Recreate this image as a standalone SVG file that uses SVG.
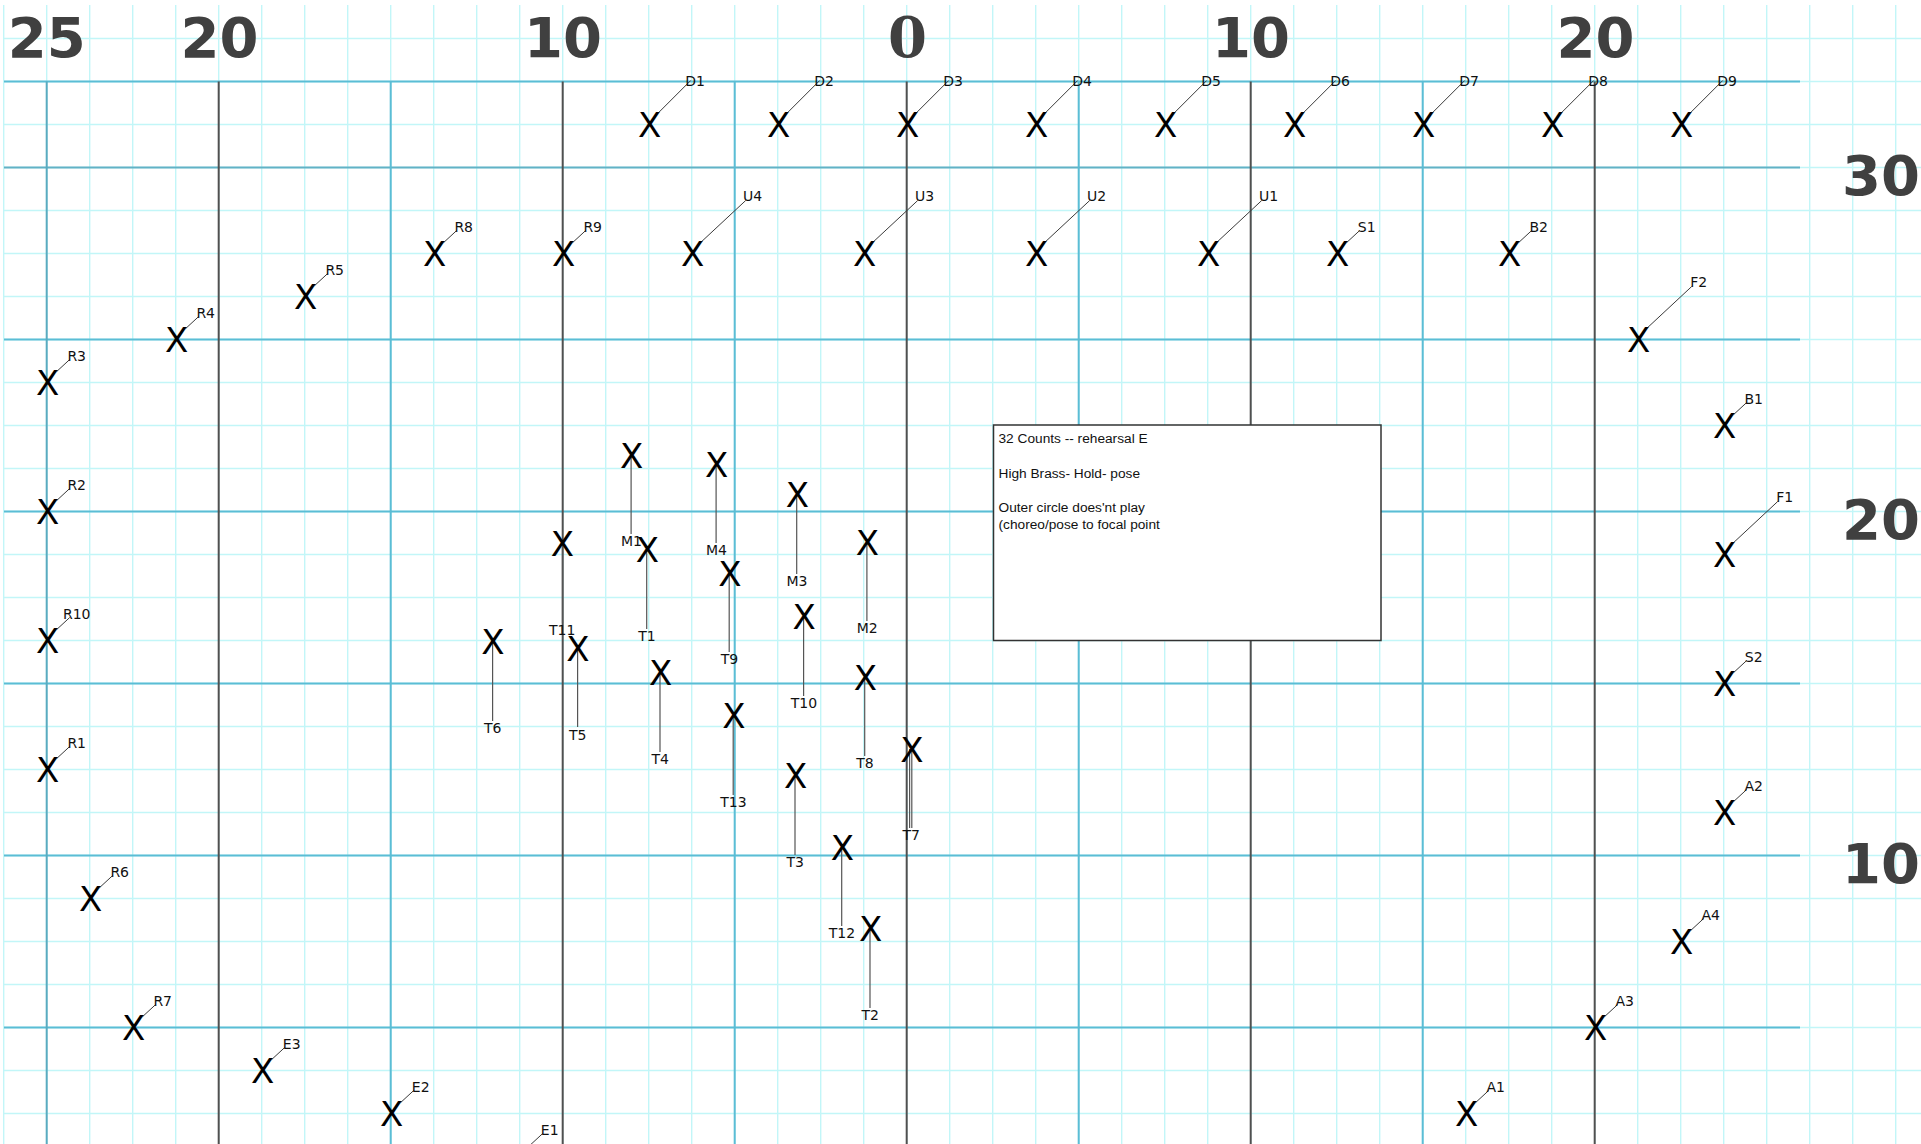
<svg xmlns="http://www.w3.org/2000/svg" width="1921" height="1144" viewBox="0 0 1921 1144">
<style>
.minor{fill:none;stroke:#c2f6f8;stroke-width:1.4}
.hmaj{fill:none;stroke:#5bbdd5;stroke-width:2}
.yb{fill:none;stroke:#5aabc0;stroke-width:2}
.yd{fill:none;stroke:#505050;stroke-width:2}
.num{font-family:"DejaVu Sans",sans-serif;font-weight:bold;font-size:56px;fill:#404040;text-anchor:middle}
.numr{font-family:"DejaVu Sans",sans-serif;font-weight:bold;font-size:56px;fill:#404040;text-anchor:end}
.nums{font-family:"DejaVu Serif",serif;font-weight:bold;font-size:56px;fill:#404040;text-anchor:middle}
.x{font-family:"DejaVu Sans",sans-serif;font-size:34px;fill:#000;text-anchor:middle}
.lbl{font-family:"DejaVu Sans",sans-serif;font-size:14px;fill:#111;text-anchor:middle}
.ldr{fill:none;stroke:#3a3a3a;stroke-width:1}
.vl{fill:none;stroke:#555;stroke-width:1.2}
.note{font-family:"Liberation Sans",Arial,sans-serif;font-size:13.7px;fill:#111}
</style>
<rect width="1921" height="1144" fill="#fff"/>
<g id="grid">
<path class="minor" d="M3.7 5v1139m43-1139v1139m43-1139v1139m43-1139v1139m43-1139v1139m43-1139v1139m43-1139v1139m43-1139v1139m43-1139v1139m43-1139v1139m43-1139v1139m43-1139v1139m43-1139v1139m43-1139v1139m43-1139v1139m43-1139v1139m43-1139v1139m43-1139v1139m43-1139v1139m43-1139v1139m43-1139v1139m43-1139v1139m43-1139v1139m43-1139v1139m43-1139v1139m43-1139v1139m43-1139v1139m43-1139v1139m43-1139v1139m43-1139v1139m43-1139v1139m43-1139v1139m43-1139v1139m43-1139v1139m43-1139v1139m43-1139v1139m43-1139v1139m43-1139v1139m43-1139v1139m43-1139v1139m43-1139v1139m43-1139v1139m43-1139v1139m43-1139v1139m43-1139v1139"/>
<path class="minor" d="M4 38.5h1917m-1917 43h1917m-1917 43h1917m-1917 43h1917m-1917 43h1917m-1917 43h1917m-1917 43h1917m-1917 43h1917m-1917 43h1917m-1917 43h1917m-1917 43h1917m-1917 43h1917m-1917 43h1917m-1917 43h1917m-1917 43h1917m-1917 43h1917m-1917 43h1917m-1917 43h1917m-1917 43h1917m-1917 43h1917m-1917 43h1917m-1917 43h1917m-1917 43h1917m-1917 43h1917m-1917 43h1917m-1917 43h1917"/>
<path class="hmaj" d="M4 81.5H1800M4 339.5H1800M4 511.5H1800M4 683.5H1800M4 855.5H1800M4 1027.5H1800"/>
<path class="hmaj" style="stroke:#62b2c6" d="M4 167.5H1800"/>
<path class="yb" d="M46.7 81.5V1144"/>
<path class="hmaj" d="M390.7 81.5V1144M734.7 81.5V1144M1078.7 81.5V1144M1422.7 81.5V1144"/>
<path class="yd" d="M218.7 81.5V1144M562.7 81.5V1144M906.7 81.5V1144M1250.7 81.5V1144M1594.7 81.5V1144"/>
</g>
<g id="yard-numbers">
<text class="num" x="46.7" y="57">25</text>
<text class="num" x="219.5" y="57">20</text>
<text class="num" x="563" y="57">10</text>
<text class="nums" x="907.5" y="57.3">0</text>
<text class="num" x="1251" y="57">10</text>
<text class="num" x="1595.5" y="57">20</text>
<text class="numr" x="1920" y="195">30</text>
<text class="numr" x="1920" y="539">20</text>
<text class="numr" x="1920" y="883">10</text>
</g>
<g id="note">
<rect x="993.5" y="425" width="387.5" height="215.5" fill="#fff" stroke="#333" stroke-width="1.5"/>
<text class="note" x="998.5" y="442.7">32 Counts -- rehearsal E</text>
<text class="note" x="998.5" y="477.7">High Brass- Hold- pose</text>
<text class="note" x="998.5" y="512">Outer circle does'nt play</text>
<text class="note" x="998.5" y="529.3">(choreo/pose to focal point</text>
</g>
<g id="connectors">
<path class="ldr" d="M658.7 112.5L690.7 80.5M787.7 112.5L819.7 80.5M916.7 112.5L948.7 80.5M1045.7 112.5L1077.7 80.5M1174.7 112.5L1206.7 80.5M1303.7 112.5L1335.7 80.5M1432.7 112.5L1464.7 80.5M1561.7 112.5L1593.7 80.5M1690.7 112.5L1722.7 80.5"/>
<path class="ldr" d="M701.7 241.5L745.7 200.5M873.7 241.5L917.7 200.5M1045.7 241.5L1089.7 200.5M1217.7 241.5L1261.7 200.5M1647.7 327.5L1691.7 286.5M1733.7 542.5L1777.7 501.5"/>
<path class="ldr" d="M443.7 242.5L456.7 230.5M572.7 242.5L585.7 230.5M314.7 285.5L327.7 273.5M185.7 328.5L198.7 316.5M56.7 371.5L69.7 359.5M56.7 500.5L69.7 488.5M56.7 629.5L69.7 617.5M56.7 758.5L69.7 746.5M99.7 887.5L112.7 875.5M142.7 1016.5L155.7 1004.5M271.7 1059.5L284.7 1047.5M400.7 1102.5L413.7 1090.5M529.7 1145.5L542.7 1133.5M1346.7 242.5L1359.7 230.5M1518.7 242.5L1531.7 230.5M1733.7 414.5L1746.7 402.5M1733.7 672.5L1746.7 660.5M1733.7 801.5L1746.7 789.5M1690.7 930.5L1703.7 918.5M1604.7 1016.5L1617.7 1004.5M1475.7 1102.5L1488.7 1090.5"/>
<path class="vl" d="M631.1 455V534M646.7 550V629M716.1 464V543M729.2 573V652M796.7 495V574M803.6 617V696M866.9 542V621M660 673V752M733.2 716V795M795 776V855M864.7 677V756M909.6 749V828M911.8 749V828M841.7 847V926M870 929V1008M492.6 642V721M577.6 648V727M562.5 544V623"/>
</g>
<g id="D1"><text class="x" x="649.7" y="137.4">X</text><text class="lbl" x="695.2" y="86">D1</text></g>
<g id="D2"><text class="x" x="778.7" y="137.4">X</text><text class="lbl" x="824.2" y="86">D2</text></g>
<g id="D3"><text class="x" x="907.7" y="137.4">X</text><text class="lbl" x="953.2" y="86">D3</text></g>
<g id="D4"><text class="x" x="1036.7" y="137.4">X</text><text class="lbl" x="1082.2" y="86">D4</text></g>
<g id="D5"><text class="x" x="1165.7" y="137.4">X</text><text class="lbl" x="1211.2" y="86">D5</text></g>
<g id="D6"><text class="x" x="1294.7" y="137.4">X</text><text class="lbl" x="1340.2" y="86">D6</text></g>
<g id="D7"><text class="x" x="1423.7" y="137.4">X</text><text class="lbl" x="1469.2" y="86">D7</text></g>
<g id="D8"><text class="x" x="1552.7" y="137.4">X</text><text class="lbl" x="1598.2" y="86">D8</text></g>
<g id="D9"><text class="x" x="1681.7" y="137.4">X</text><text class="lbl" x="1727.2" y="86">D9</text></g>
<g id="U4"><text class="x" x="692.7" y="266.4">X</text><text class="lbl" x="752.7" y="200.5">U4</text></g>
<g id="U3"><text class="x" x="864.7" y="266.4">X</text><text class="lbl" x="924.7" y="200.5">U3</text></g>
<g id="U2"><text class="x" x="1036.7" y="266.4">X</text><text class="lbl" x="1096.7" y="200.5">U2</text></g>
<g id="U1"><text class="x" x="1208.7" y="266.4">X</text><text class="lbl" x="1268.7" y="200.5">U1</text></g>
<g id="F2"><text class="x" x="1638.7" y="352.4">X</text><text class="lbl" x="1698.7" y="286.5">F2</text></g>
<g id="F1"><text class="x" x="1724.7" y="567.4">X</text><text class="lbl" x="1784.7" y="501.5">F1</text></g>
<g id="R8"><text class="x" x="434.7" y="266.4">X</text><text class="lbl" x="463.7" y="231.5">R8</text></g>
<g id="R9"><text class="x" x="563.7" y="266.4">X</text><text class="lbl" x="592.7" y="231.5">R9</text></g>
<g id="R5"><text class="x" x="305.7" y="309.4">X</text><text class="lbl" x="334.7" y="274.5">R5</text></g>
<g id="R4"><text class="x" x="176.7" y="352.4">X</text><text class="lbl" x="205.7" y="317.5">R4</text></g>
<g id="R3"><text class="x" x="47.7" y="395.4">X</text><text class="lbl" x="76.7" y="360.5">R3</text></g>
<g id="R2"><text class="x" x="47.7" y="524.4">X</text><text class="lbl" x="76.7" y="489.5">R2</text></g>
<g id="R10"><text class="x" x="47.7" y="653.4">X</text><text class="lbl" x="76.7" y="618.5">R10</text></g>
<g id="R1"><text class="x" x="47.7" y="782.4">X</text><text class="lbl" x="76.7" y="747.5">R1</text></g>
<g id="R6"><text class="x" x="90.7" y="911.4">X</text><text class="lbl" x="119.7" y="876.5">R6</text></g>
<g id="R7"><text class="x" x="133.7" y="1040.4">X</text><text class="lbl" x="162.7" y="1005.5">R7</text></g>
<g id="E3"><text class="x" x="262.7" y="1083.4">X</text><text class="lbl" x="291.7" y="1048.5">E3</text></g>
<g id="E2"><text class="x" x="391.7" y="1126.4">X</text><text class="lbl" x="420.7" y="1091.5">E2</text></g>
<g id="E1"><text class="x" x="520.7" y="1169.4">X</text><text class="lbl" x="549.7" y="1134.5">E1</text></g>
<g id="S1"><text class="x" x="1337.7" y="266.4">X</text><text class="lbl" x="1366.7" y="231.5">S1</text></g>
<g id="B2"><text class="x" x="1509.7" y="266.4">X</text><text class="lbl" x="1538.7" y="231.5">B2</text></g>
<g id="B1"><text class="x" x="1724.7" y="438.4">X</text><text class="lbl" x="1753.7" y="403.5">B1</text></g>
<g id="S2"><text class="x" x="1724.7" y="696.4">X</text><text class="lbl" x="1753.7" y="661.5">S2</text></g>
<g id="A2"><text class="x" x="1724.7" y="825.4">X</text><text class="lbl" x="1753.7" y="790.5">A2</text></g>
<g id="A4"><text class="x" x="1681.7" y="954.4">X</text><text class="lbl" x="1710.7" y="919.5">A4</text></g>
<g id="A3"><text class="x" x="1595.7" y="1040.4">X</text><text class="lbl" x="1624.7" y="1005.5">A3</text></g>
<g id="A1"><text class="x" x="1466.7" y="1126.4">X</text><text class="lbl" x="1495.7" y="1091.5">A1</text></g>
<g id="M1"><text class="x" x="631.7" y="467.6">X</text><text class="lbl" x="631.4" y="546.2">M1</text></g>
<g id="T1"><text class="x" x="647.3" y="562.4">X</text><text class="lbl" x="647" y="641">T1</text></g>
<g id="M4"><text class="x" x="716.7" y="476.7">X</text><text class="lbl" x="716.4" y="555.3">M4</text></g>
<g id="T9"><text class="x" x="729.8" y="585.7">X</text><text class="lbl" x="729.5" y="664.3">T9</text></g>
<g id="M3"><text class="x" x="797.3" y="507.4">X</text><text class="lbl" x="797" y="586">M3</text></g>
<g id="T10"><text class="x" x="804.2" y="629.1">X</text><text class="lbl" x="804" y="707.7">T10</text></g>
<g id="M2"><text class="x" x="867.5" y="554.7">X</text><text class="lbl" x="867.2" y="633.3">M2</text></g>
<g id="T4"><text class="x" x="660.6" y="685.1">X</text><text class="lbl" x="660.3" y="763.7">T4</text></g>
<g id="T13"><text class="x" x="733.8" y="728.1">X</text><text class="lbl" x="733.5" y="806.7">T13</text></g>
<g id="T3"><text class="x" x="795.6" y="788.1">X</text><text class="lbl" x="795.3" y="866.7">T3</text></g>
<g id="T8"><text class="x" x="865.3" y="689.7">X</text><text class="lbl" x="865" y="768.3">T8</text></g>
<g id="T7"><text class="x" x="912" y="761.7">X</text><text class="lbl" x="911.3" y="840.3">T7</text></g>
<g id="T12"><text class="x" x="842.3" y="859.7">X</text><text class="lbl" x="842" y="938.3">T12</text></g>
<g id="T2"><text class="x" x="870.6" y="941.4">X</text><text class="lbl" x="870.3" y="1020">T2</text></g>
<g id="T6"><text class="x" x="493" y="654.1">X</text><text class="lbl" x="492.7" y="732.7">T6</text></g>
<g id="T5"><text class="x" x="578" y="660.9">X</text><text class="lbl" x="577.7" y="739.5">T5</text></g>
<g id="T11"><text class="x" x="562.5" y="556.2">X</text><text class="lbl" x="562.2" y="635">T11</text></g>
</svg>
